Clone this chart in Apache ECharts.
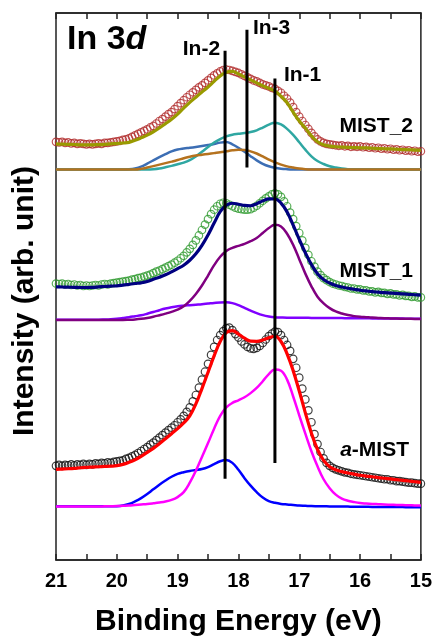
<!DOCTYPE html>
<html>
<head>
<meta charset="utf-8">
<script src="https://cdn.jsdelivr.net/npm/echarts@6/dist/echarts.min.js"></script>
<style>
  html, body { margin: 0; padding: 0; background: #fff; }
  #chart { width: 435px; height: 642px; }
</style>
</head>
<body>
<div id="chart"></div>
<script>
// binding energy grids (eV)
var energyFit = [21.0, 20.9, 20.8, 20.7, 20.6, 20.5, 20.4, 20.3, 20.2, 20.1,
  20.0, 19.9, 19.8, 19.7, 19.6, 19.5, 19.4, 19.3, 19.2, 19.1,
  19.0, 18.9, 18.8, 18.7, 18.6, 18.5, 18.4, 18.3, 18.2, 18.1,
  18.0, 17.9, 17.8, 17.7, 17.6, 17.5, 17.4, 17.3, 17.2, 17.1,
  17.0, 16.9, 16.8, 16.7, 16.6, 16.5, 16.4, 16.3, 16.2, 16.1,
  16.0, 15.9, 15.8, 15.7, 15.6, 15.5, 15.4, 15.3, 15.2, 15.1, 15.0];

var energyData = [21.00, 20.95, 20.90, 20.85, 20.80, 20.75, 20.70, 20.65, 20.60, 20.55,
  20.50, 20.45, 20.40, 20.35, 20.30, 20.25, 20.20, 20.15, 20.10, 20.05,
  20.00, 19.95, 19.90, 19.85, 19.80, 19.75, 19.70, 19.65, 19.60, 19.55,
  19.50, 19.45, 19.40, 19.35, 19.30, 19.25, 19.20, 19.15, 19.10, 19.05,
  19.00, 18.95, 18.90, 18.85, 18.80, 18.75, 18.70, 18.65, 18.60, 18.55,
  18.50, 18.45, 18.40, 18.35, 18.30, 18.25, 18.20, 18.15, 18.10, 18.05,
  18.00, 17.95, 17.90, 17.85, 17.80, 17.75, 17.70, 17.65, 17.60, 17.55,
  17.50, 17.45, 17.40, 17.35, 17.30, 17.25, 17.20, 17.15, 17.10, 17.05,
  17.00, 16.95, 16.90, 16.85, 16.80, 16.75, 16.70, 16.65, 16.60, 16.55,
  16.50, 16.45, 16.40, 16.35, 16.30, 16.25, 16.20, 16.15, 16.10, 16.05,
  16.00, 15.95, 15.90, 15.85, 15.80, 15.75, 15.70, 15.65, 15.60, 15.55,
  15.50, 15.45, 15.40, 15.35, 15.30, 15.25, 15.20, 15.15, 15.10, 15.05, 15.00];

// ---- MIST_2 (top, offset spectra) ----
var mist2Data = [422, 421.5, 422, 421, 421.5, 420.5, 421, 420, 420.5, 420,
  419.5, 420, 419.5, 420, 420.5, 420, 421, 421, 421.5, 422,
  422.5, 423, 424, 424.5, 425.5, 427, 428.5, 430, 431.5, 433,
  434.5, 436.5, 438, 440.5, 443, 445, 447.5, 450, 452, 455,
  458, 461, 464, 467, 469.5, 472, 474.5, 477, 479, 481.5,
  484, 486.5, 489, 491, 493, 494.5, 495, 494.5, 493.5, 492.5,
  491.5, 490, 488.5, 487, 485.5, 484, 483, 481.5, 480, 479,
  478, 476.5, 475.5, 473.5, 471.5, 468.5, 465.5, 461.5, 457, 452,
  447.5, 443, 439, 435, 431, 427.5, 424.5, 422.5, 421, 420,
  419.5, 419, 418.5, 418, 418.5, 417.5, 418, 417, 417.5, 417,
  417.5, 416.5, 417, 416, 416.5, 415.5, 416, 415, 415.5, 414.5,
  415, 414, 414.5, 413.5, 414, 413, 413.5, 412.5, 413, 412, 412.5];
var mist2Fit = [420, 419.7, 419.5, 419.3, 419, 419, 419, 419.2, 419.5, 420,
  420.2, 420.8, 421.5, 423.5, 426, 428.7, 432, 436, 440.3, 444.7,
  450, 456, 461.8, 467, 472.2, 477.3, 483, 488.5, 492.2, 493,
  490.5, 487.5, 484.5, 481.5, 478.5, 476, 473.3, 468, 461.5, 452,
  443, 436, 428, 422, 419, 417.7, 417, 416.7, 416.4, 416.2,
  416, 415.8, 415.5, 415.2, 415, 414.8, 414.5, 414.2, 414, 413.7, 413.4];
var mist2In2 = [394, 394, 394, 394, 394, 394, 394, 394, 394, 394,
  394, 394, 394.3, 395.2, 397, 400, 403.3, 406.5, 409.5, 412.3,
  414.3, 415.3, 416, 416.8, 417.7, 418.7, 419.8, 421.2, 421.8, 419.5,
  416, 412, 407.5, 403.3, 399.8, 397.3, 395.8, 394.9, 394.4, 394.1,
  394, 394, 394, 394, 394, 394, 394, 394, 394, 394,
  394, 394, 394, 394, 394, 394, 394, 394, 394, 394, 394];
var mist2In1 = [394, 394, 394, 394, 394, 394, 394, 394, 394, 394,
  394, 394, 394, 394, 394, 394, 394.3, 395, 396.3, 397.7,
  399.3, 401, 403.5, 407.3, 412, 416.8, 421.3, 424.8, 427.5, 429.2,
  430.1, 430.9, 431.9, 433.6, 436.4, 439.4, 441.3, 439.6, 435.1, 429,
  421.6, 414.1, 407.4, 402.6, 399.6, 397.4, 396, 395, 394.4, 394.1,
  394, 394, 394, 394, 394, 394, 394, 394, 394, 394, 394];
var mist2In3 = [394, 394, 394, 394, 394, 394, 394, 394, 394, 394,
  394, 394, 394, 394, 394.7, 396, 397.5, 399, 400.5, 402,
  403.6, 405.4, 407, 408.2, 409, 409.8, 410.6, 411.4, 412.4, 413.4,
  413.9, 413.8, 412.4, 410.2, 407.2, 404, 401.2, 399, 397.2, 396,
  395, 394.4, 394.1, 394, 394, 394, 394, 394, 394, 394,
  394, 394, 394, 394, 394, 394, 394, 394, 394, 394, 394];

// ---- MIST_1 (middle) ----
var mist1Data = [279, 278.5, 279, 278, 278.5, 277.5, 278, 277, 277.5, 276.5,
  277, 276.5, 277, 277.5, 277, 278, 278.5, 278, 279, 279.5,
  280, 280.5, 281, 281.5, 282, 283, 283.5, 284.5, 285, 286,
  287, 288, 289.5, 291, 292, 293.5, 295, 296.5, 298, 300,
  302, 304.5, 307, 310.5, 314, 318, 322.5, 327.5, 333, 338.5,
  344, 349, 353.5, 357, 359.5, 360.5, 360, 358.5, 357, 355.5,
  354.5, 354, 353.5, 353.5, 354, 355.5, 357.5, 360, 362.5, 365,
  367, 369, 370, 369, 366.5, 362, 357, 350.5, 344, 337,
  330, 322.5, 315, 308, 301.5, 296, 291, 287.5, 284.5, 282.5,
  280.5, 279, 278, 277, 276.5, 275.5, 275, 274, 274, 273,
  273, 272, 272, 271, 271, 270, 270.5, 269.5, 269.5, 268.5,
  269, 268, 268, 267, 267.5, 266.5, 266.5, 265.5, 266, 265, 265];
var mist1Fit = [275.7, 275.5, 275.3, 275.2, 275, 275, 275.2, 275.6, 276, 276.4,
  276.7, 277.4, 278.2, 279, 279.7, 281, 283.3, 285.4, 287.8, 290.8,
  294, 297.5, 302.5, 309, 317.5, 328, 340, 351.5, 358, 360,
  359, 357.8, 357.5, 359.6, 362.4, 364.4, 364.3, 360.2, 351.2, 338,
  323.5, 310, 298.2, 288.8, 283, 279.5, 277, 275.5, 274.2, 273.2,
  272.2, 271.5, 270.8, 270.3, 269.8, 269.4, 269, 268.5, 268.1, 267.7, 267.3];
var mist1In1 = [242.3, 242.3, 242.3, 242.3, 242.3, 242.3, 242.3, 242.3, 242.3, 242.3,
  242.3, 242.3, 242.5, 242.8, 243.4, 244.3, 245.5, 247, 248.6, 250.4,
  252.6, 256, 261.5, 268.5, 277, 287, 297.5, 306, 311.8, 315,
  317, 319, 321.7, 325, 330, 335, 338.2, 336.6, 329.2, 318,
  303.6, 289, 276.2, 265.7, 259, 254.2, 250.8, 248.7, 247.2, 246.1,
  245.4, 245, 244.6, 244.3, 244, 243.8, 243.6, 243.5, 243.4, 243.3, 243.3];
var mist1In2 = [242.5, 242.5, 242.5, 242.5, 242.5, 242.5, 242.5, 242.5, 242.7, 243,
  243.5, 244.2, 245, 246, 247, 248.5, 250.2, 252.1, 253.8, 255.1,
  256.1, 256.7, 257.2, 257.7, 258.2, 258.8, 259.4, 259.9, 260, 259.2,
  257.2, 254.4, 251.6, 249.1, 247.1, 245.8, 245, 244.7, 244.5, 244.5,
  244.4, 244.4, 244.3, 244.3, 244.2, 244.2, 244.1, 244.1, 244, 244,
  243.9, 243.9, 243.8, 243.8, 243.7, 243.7, 243.6, 243.6, 243.5, 243.5, 243.5];

// ---- a-MIST (bottom) ----
var aMistData = [95, 96, 95, 96, 95.5, 96.5, 95.5, 96.5, 96, 97,
  96, 97, 96.5, 97.5, 97, 98, 97.5, 98.5, 98, 99,
  99.5, 100, 100.5, 102, 103, 104.5, 106, 108, 110, 112,
  114, 116.5, 118.5, 121, 123.5, 126, 128.5, 131, 133.5, 136,
  139, 142, 145.5, 149.5, 154, 160, 166.5, 174, 182, 190,
  198, 207, 215, 222, 227, 231, 234, 234.5, 232, 228,
  224.5, 220.5, 217.5, 215, 213.5, 213, 214, 216, 219, 222.5,
  226, 228.5, 230.5, 230, 227, 222, 217, 211, 203, 194,
  184, 173, 162, 151, 139, 127, 117, 109, 102.5, 98,
  95, 93, 91.5, 90.5, 89.5, 88.5, 88, 87, 86.5, 86,
  85.5, 85, 84.5, 84, 83.5, 83, 82.5, 82, 81.5, 81.5,
  80.5, 80.5, 79.5, 79.5, 79, 78.5, 78, 78, 77.5, 77, 77];
var aMistFit = [91.5, 91.8, 92.1, 92.5, 93.1, 93.5, 93.8, 94.1, 94.4, 94.7,
  95.2, 96.5, 98.6, 101.2, 104.6, 108.6, 112.7, 117.3, 122.4, 127.5,
  132.6, 138.3, 145.5, 157.5, 173, 189.5, 206, 220.5, 229.5, 231.5,
  228, 223.8, 220.8, 220.7, 222, 224.3, 225.8, 220.5, 208, 191,
  170.5, 148.5, 128, 111.5, 100.5, 94.2, 91, 89.2, 87.8, 86.7,
  85.5, 84.7, 84, 83.2, 82.5, 81.8, 81.1, 80.4, 79.7, 79, 78.3];
var aMistIn1 = [54, 54, 54, 54, 54, 54, 54, 54, 54.2, 54.3,
  54.4, 54.7, 55, 55.5, 56, 56.5, 57.2, 58, 59, 60.6,
  63.5, 68.5, 78, 90, 104, 118, 132.5, 145.5, 154, 158.5,
  161.2, 164.2, 168.4, 173.6, 180.4, 187.6, 192.2, 191, 182, 165,
  146, 127.5, 109.8, 94.6, 81.5, 72.5, 66, 62, 59.8, 58.5,
  57.5, 57, 56.6, 56.3, 56, 55.8, 55.6, 55.4, 55.3, 55.1, 55];
var aMistIn2 = [54.2, 54.2, 54.2, 54.2, 54.2, 54.2, 54.2, 54.2, 54.2, 54.2,
  54.3, 55, 56.5, 59.1, 62.4, 66.5, 71.3, 76, 80.2, 84,
  86.9, 88.6, 89.9, 90.8, 91.8, 93.8, 96.8, 99.6, 100.8, 98,
  91, 82.6, 75, 68.4, 63, 59.4, 57.7, 56.6, 56, 55.5,
  55, 54.7, 54.4, 54.3, 54.2, 54.1, 54, 54, 53.9, 53.8,
  53.8, 53.7, 53.6, 53.6, 53.5, 53.5, 53.4, 53.4, 53.3, 53.3, 53.3];

// component marker lines
var peakNames = ["In-2", "In-3", "In-1"];
var peakPos = [18.22, 17.86, 17.40];
var peakTop = [514, 535, 486];
var peakBottom = [82, 396, 98];

var groupNames = ["MIST_2", "MIST_1", "a-MIST"];
var xTicks = [21, 20, 19, 18, 17, 16, 15];

function zip(xs, ys) {
  return xs.map(function (x, i) { return [x, ys[i]]; });
}

var FONT = "Liberation Sans, Arial, sans-serif";

function fitLine(name, xs, ys, color, width, z) {
  return {
    name: name,
    type: "line",
    data: zip(xs, ys),
    smooth: 0.4,
    symbol: "none",
    z: z,
    lineStyle: { color: color, width: width },
  };
}

function dots(name, ys, color) {
  return {
    name: name,
    type: "scatter",
    data: zip(energyData, ys),
    symbol: "circle",
    symbolSize: 7.5,
    z: 3,
    itemStyle: { color: "rgba(0,0,0,0)", borderColor: color, borderWidth: 1.2 },
  };
}

var series = [
  // components
  fitLine("MIST_2 In-2", energyFit, mist2In2, "#3c6eb4", 2.5, 2),
  fitLine("MIST_2 In-1", energyFit, mist2In1, "#2fa7a2", 2.5, 2),
  fitLine("MIST_2 In-3", energyFit, mist2In3, "#b5721e", 2.5, 2),
  fitLine("MIST_1 In-2", energyFit, mist1In2, "#8000ff", 2.5, 2),
  fitLine("MIST_1 In-1", energyFit, mist1In1, "#800080", 2.5, 2),
  fitLine("a-MIST In-2", energyFit, aMistIn2, "#0000ff", 2.5, 2),
  fitLine("a-MIST In-1", energyFit, aMistIn1, "#ff00ff", 2.5, 2),
  // measured
  dots("MIST_2 data", mist2Data, "#b02a2a"),
  dots("MIST_1 data", mist1Data, "#2e9a2e"),
  dots("a-MIST data", aMistData, "#111111"),
  // envelopes
  fitLine("MIST_2 fit", energyFit, mist2Fit, "#999a00", 3.2, 4),
  fitLine("MIST_1 fit", energyFit, mist1Fit, "#000080", 3.2, 4),
  fitLine("a-MIST fit", energyFit, aMistFit, "#ff0000", 3.2, 4),
];

// vertical marker bars
peakPos.forEach(function (p, i) {
  series.push({
    name: peakNames[i],
    type: "line",
    data: [[p, peakTop[i]], [p, peakBottom[i]]],
    symbol: "none",
    z: 6,
    lineStyle: { color: "#000", width: 3 },
  });
});

var myChart = echarts.init(document.getElementById("chart"));
var option = {
  animation: false,
  backgroundColor: "#fff",
  grid: {
    left: 56, right: 14, top: 13, bottom: 77,
    show: true, borderColor: "#222", borderWidth: 1.5, backgroundColor: "transparent",
  },
  xAxis: [
    {
      type: "value",
      min: 15, max: 21, interval: 1,
      inverse: true,
      position: "bottom",
      name: "Binding Energy (eV)",
      nameLocation: "middle",
      nameGap: 47,
      nameTextStyle: { fontSize: 30, fontWeight: "bold", color: "#000", fontFamily: FONT },
      axisLine: { show: true, lineStyle: { color: "#222", width: 1.5 } },
      axisTick: { show: true, inside: true, length: 6, lineStyle: { color: "#222", width: 1.5 } },
      minorTick: { show: true, splitNumber: 2, length: 6, lineStyle: { color: "#222", width: 1.5 } },
      axisLabel: {
        fontSize: 20, fontWeight: "bold", color: "#000", margin: 11, fontFamily: FONT,
        formatter: function (v) { return xTicks.indexOf(v) >= 0 ? String(v) : ""; },
      },
      splitLine: { show: false },
    },
    {
      type: "value",
      min: 15, max: 21, interval: 1,
      inverse: true,
      position: "top",
      axisLine: { show: true, lineStyle: { color: "#222", width: 1.5 } },
      axisTick: { show: true, inside: true, length: 6, lineStyle: { color: "#222", width: 1.5 } },
      minorTick: { show: true, splitNumber: 2, length: 6, lineStyle: { color: "#222", width: 1.5 } },
      axisLabel: { show: false },
      splitLine: { show: false },
    },
  ],
  yAxis: {
    type: "value",
    min: 0, max: 552,
    axisLine: { show: false },
    axisTick: { show: false },
    axisLabel: { show: false },
    splitLine: { show: false },
  },
  graphic: [
    {
      type: "text", x: 25, y: 301, rotation: Math.PI / 2,
      style: {
        text: "Intensity (arb. unit)", fill: "#000", font: "bold 30px " + FONT,
        textAlign: "center", textVerticalAlign: "middle",
      },
    },
    {
      type: "text", x: 67, y: 40,
      style: {
        text: "In 3{i|d}", fill: "#000", font: "bold 34px " + FONT,
        textVerticalAlign: "middle",
        rich: { i: { fontStyle: "italic", fontWeight: "bold", fontSize: 34, fontFamily: FONT } },
      },
    },
    {
      type: "text", x: 413, y: 126,
      style: { text: groupNames[0], fill: "#000", font: "bold 21px " + FONT, textAlign: "right", textVerticalAlign: "middle" },
    },
    {
      type: "text", x: 413, y: 271,
      style: { text: groupNames[1], fill: "#000", font: "bold 21px " + FONT, textAlign: "right", textVerticalAlign: "middle" },
    },
    {
      type: "text", x: 409, y: 450,
      style: {
        text: "{i|a}-MIST", fill: "#000", font: "bold 21px " + FONT, textAlign: "right", textVerticalAlign: "middle",
        rich: { i: { fontStyle: "italic", fontWeight: "bold", fontSize: 21, fontFamily: FONT } },
      },
    },
  ],
  series: series,
};

option && myChart.setOption(option);

// peak tags, placed next to the top end of each marker bar
var tagSide = ["right", "left", "left"];
var tagDx = [-5, 6, 9];
var tagDy = [-1, -2, -3];
var tags = peakPos.map(function (p, i) {
  var pt = myChart.convertToPixel({ gridIndex: 0 }, [p, peakTop[i]]);
  return {
    type: "text",
    x: pt[0] + tagDx[i],
    y: pt[1] + tagDy[i],
    z: 10,
    style: {
      text: peakNames[i], fill: "#000", font: "bold 21px " + FONT,
      textAlign: tagSide[i], textVerticalAlign: "middle",
    },
  };
});
myChart.setOption({ graphic: option.graphic.concat(tags) });
</script>
</body>
</html>
